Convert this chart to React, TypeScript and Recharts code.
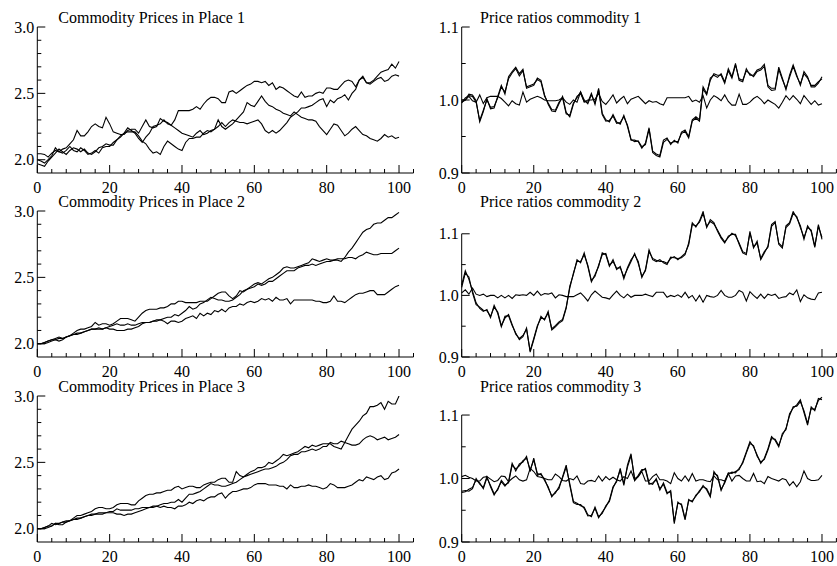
import React from 'react';
import { LineChart, Line, XAxis, YAxis, ReferenceLine } from 'recharts';

const FONT = '"Liberation Serif", "Times New Roman", Times, serif';

// ---------- time index and axis ticks ----------
const periods = Array.from({ length: 101 }, (_, i) => i);
const xTicks = [0, 4, 8, 12, 16, 20, 24, 28, 32, 36, 40, 44, 48, 52, 56, 60, 64, 68, 72, 76, 80, 84, 88, 92, 96, 100, 104];
const xLabelled = [0, 20, 40, 60, 80, 100];
const priceTicks = [2.0, 2.1, 2.2, 2.3, 2.4, 2.5, 2.6, 2.7, 2.8, 2.9, 3.0];
const priceLabelled = [2.0, 2.5, 3.0];
const ratioTicks = [0.9, 0.95, 1.0, 1.05, 1.1];
const ratioLabelled = [0.9, 1.0, 1.1];

// ---------- prices, place 1 ----------
const place1Good1 = [
  2.045, 2.045, 2.04, 2.02, 2.05, 2.07, 2.06, 2.08, 2.09, 2.12,
  2.15, 2.22, 2.18, 2.18, 2.21, 2.25, 2.27, 2.25, 2.24, 2.32,
  2.27, 2.21, 2.2, 2.19, 2.19, 2.22, 2.23, 2.23, 2.2, 2.25,
  2.3, 2.25, 2.24, 2.25, 2.31, 2.29, 2.28, 2.26, 2.3, 2.37,
  2.37, 2.37, 2.37, 2.38, 2.4, 2.38, 2.42, 2.45, 2.47, 2.47,
  2.46, 2.43, 2.43, 2.51, 2.52, 2.5, 2.52, 2.54, 2.56, 2.57,
  2.59, 2.59, 2.58, 2.59, 2.56, 2.58, 2.53, 2.55, 2.54, 2.52,
  2.5, 2.48, 2.47, 2.51, 2.47, 2.48, 2.48, 2.5, 2.51, 2.5,
  2.54, 2.54, 2.53, 2.53, 2.56, 2.59, 2.6, 2.59, 2.55, 2.6,
  2.62, 2.58, 2.57, 2.59, 2.61, 2.62, 2.59, 2.6, 2.63, 2.64,
  2.63,
];
const place1Good2 = [
  1.97, 1.96, 1.95, 1.99, 2.02, 2.05, 2.08, 2.06, 2.04, 2.07,
  2.09, 2.08, 2.06, 2.08, 2.05, 2.04, 2.06, 2.09, 2.1, 2.12,
  2.11, 2.11, 2.15, 2.17, 2.2, 2.24, 2.22, 2.2, 2.16, 2.13,
  2.17, 2.2, 2.25, 2.26, 2.27, 2.3, 2.27, 2.26, 2.24, 2.22,
  2.2, 2.19, 2.18, 2.17, 2.2, 2.22, 2.19, 2.2, 2.22, 2.23,
  2.25, 2.28, 2.25, 2.28, 2.3, 2.29, 2.28, 2.28, 2.27, 2.28,
  2.29, 2.3, 2.27, 2.22, 2.2, 2.22, 2.2, 2.22, 2.25, 2.28,
  2.32, 2.34, 2.36, 2.39, 2.39, 2.4, 2.41, 2.43, 2.45, 2.46,
  2.4, 2.45, 2.43, 2.46, 2.47, 2.49, 2.45, 2.5, 2.53, 2.6,
  2.63, 2.58, 2.58, 2.6, 2.63, 2.66, 2.67, 2.68, 2.72, 2.69,
  2.74,
];
const place1Good3 = [
  2.0, 1.99, 1.975, 2.0, 2.03, 2.09, 2.06, 2.05, 2.07, 2.1,
  2.07, 2.06, 2.09, 2.07, 2.04, 2.05, 2.07, 2.05, 2.09, 2.1,
  2.1, 2.13, 2.15, 2.18, 2.2, 2.21, 2.21, 2.21, 2.18, 2.14,
  2.12, 2.08, 2.05, 2.06, 2.04, 2.1, 2.14, 2.12, 2.1, 2.08,
  2.07, 2.13, 2.16, 2.16, 2.17, 2.17, 2.2, 2.22, 2.21, 2.23,
  2.3, 2.25, 2.23, 2.25, 2.27, 2.3, 2.33, 2.36, 2.43, 2.41,
  2.4, 2.44, 2.48, 2.44, 2.41, 2.4, 2.38, 2.37, 2.35, 2.34,
  2.33, 2.36, 2.34, 2.32, 2.31, 2.3, 2.3, 2.29, 2.25, 2.22,
  2.19, 2.23, 2.27, 2.26, 2.22, 2.18, 2.2, 2.23, 2.25, 2.22,
  2.19, 2.18, 2.16, 2.15, 2.14, 2.16, 2.19, 2.17, 2.18, 2.16,
  2.17,
];

// ---------- prices, place 2 ----------
const place2Good1 = [
  2.0, 2.0, 2.01, 2.02, 2.03, 2.03, 2.04, 2.04, 2.05, 2.06,
  2.08, 2.1, 2.11, 2.11, 2.12, 2.13, 2.16, 2.14, 2.15, 2.15,
  2.14, 2.15, 2.17, 2.19, 2.19, 2.19, 2.18, 2.17, 2.2, 2.23,
  2.25, 2.26, 2.26, 2.26, 2.27, 2.27, 2.28, 2.3, 2.3, 2.32,
  2.32, 2.31, 2.31, 2.31, 2.31, 2.32, 2.32, 2.32, 2.34, 2.36,
  2.38, 2.39, 2.39, 2.36, 2.34, 2.36, 2.4, 2.39, 2.41, 2.43,
  2.45, 2.46, 2.45, 2.47, 2.49, 2.5, 2.52, 2.54, 2.57, 2.58,
  2.57, 2.57, 2.58, 2.59, 2.6, 2.61, 2.64, 2.63, 2.62, 2.63,
  2.64, 2.63, 2.63, 2.63, 2.62, 2.65, 2.69, 2.72, 2.76, 2.8,
  2.84, 2.86, 2.87, 2.9, 2.91, 2.91, 2.93, 2.95, 2.95, 2.97,
  2.99,
];
const place2Good2 = [
  2.0, 2.0, 2.0, 2.01, 2.02, 2.03, 2.02, 2.03, 2.05, 2.06,
  2.07, 2.07, 2.08, 2.09, 2.1, 2.11, 2.11, 2.12, 2.11, 2.12,
  2.13, 2.14, 2.15, 2.14, 2.14, 2.15, 2.14, 2.14, 2.15, 2.16,
  2.16, 2.16, 2.17, 2.18, 2.18, 2.19, 2.2, 2.2, 2.22, 2.21,
  2.23, 2.25, 2.28, 2.26, 2.27, 2.3, 2.31, 2.33, 2.35, 2.34,
  2.33, 2.33, 2.32, 2.32, 2.33, 2.35, 2.37, 2.4, 2.41, 2.42,
  2.43, 2.45, 2.44, 2.45, 2.47, 2.47, 2.49, 2.51, 2.53, 2.55,
  2.55, 2.55, 2.57, 2.58, 2.59, 2.59, 2.6, 2.59, 2.6, 2.61,
  2.62, 2.62, 2.63, 2.64, 2.64, 2.64, 2.65, 2.65, 2.64, 2.66,
  2.67, 2.69, 2.68, 2.67, 2.67, 2.68, 2.68, 2.68, 2.68, 2.7,
  2.72,
];
const place2Good3 = [
  2.0, 2.0, 2.01, 2.02, 2.03, 2.04, 2.05, 2.04, 2.05, 2.06,
  2.07, 2.08, 2.08, 2.09, 2.1, 2.11, 2.11, 2.11, 2.11, 2.12,
  2.11, 2.11, 2.1, 2.1, 2.1, 2.11, 2.11, 2.12, 2.13, 2.15,
  2.16, 2.16, 2.17, 2.17, 2.18, 2.17, 2.15, 2.17, 2.17, 2.16,
  2.17, 2.19, 2.2, 2.21, 2.19, 2.23, 2.21, 2.23, 2.22, 2.25,
  2.24, 2.26, 2.24, 2.27, 2.28, 2.28, 2.3, 2.29, 2.31, 2.32,
  2.31, 2.32, 2.34, 2.33, 2.34, 2.32, 2.35, 2.33, 2.33, 2.34,
  2.3, 2.33, 2.33, 2.33, 2.33, 2.33, 2.33, 2.32, 2.32, 2.31,
  2.31, 2.32, 2.36, 2.32, 2.32, 2.31, 2.33, 2.35, 2.37, 2.38,
  2.38, 2.39, 2.4, 2.4, 2.37, 2.37, 2.37, 2.39, 2.41, 2.43,
  2.44,
];

// ---------- prices, place 3 ----------
const place3Good1 = [
  2.0, 2.0, 2.01, 2.02, 2.04, 2.03, 2.04, 2.05, 2.06, 2.06,
  2.08, 2.1, 2.1, 2.11, 2.12, 2.13, 2.15, 2.16, 2.16, 2.15,
  2.15, 2.16, 2.18, 2.19, 2.19, 2.19, 2.18, 2.18, 2.21, 2.23,
  2.25, 2.26, 2.26, 2.27, 2.27, 2.28, 2.29, 2.29, 2.31, 2.32,
  2.3, 2.31, 2.32, 2.32, 2.31, 2.31, 2.33, 2.34, 2.35, 2.35,
  2.37, 2.38, 2.38, 2.35, 2.35, 2.43, 2.4, 2.39, 2.41, 2.43,
  2.44, 2.46, 2.46, 2.47, 2.5, 2.49, 2.51, 2.53, 2.56, 2.55,
  2.56, 2.57, 2.58, 2.6, 2.62, 2.61, 2.63, 2.62, 2.63, 2.64,
  2.64, 2.64, 2.62, 2.61, 2.6, 2.65, 2.7, 2.75, 2.78, 2.81,
  2.85, 2.87, 2.92, 2.92, 2.93, 2.95, 2.9, 2.96, 2.94, 2.94,
  3.0,
];
const place3Good2 = [
  2.0, 2.0, 2.0, 2.01, 2.02, 2.04, 2.03, 2.03, 2.05, 2.06,
  2.07, 2.08, 2.08, 2.09, 2.1, 2.11, 2.11, 2.12, 2.12, 2.12,
  2.13, 2.13, 2.15, 2.14, 2.14, 2.14, 2.14, 2.15, 2.15, 2.16,
  2.16, 2.16, 2.16, 2.17, 2.18, 2.19, 2.19, 2.2, 2.2, 2.22,
  2.2, 2.23, 2.26, 2.26, 2.27, 2.28, 2.3, 2.32, 2.34, 2.33,
  2.33, 2.32, 2.32, 2.33, 2.34, 2.35, 2.37, 2.39, 2.4, 2.41,
  2.42, 2.43, 2.44, 2.45, 2.45, 2.46, 2.47, 2.49, 2.5, 2.52,
  2.55, 2.56, 2.56, 2.58, 2.58, 2.59, 2.6, 2.59, 2.6, 2.62,
  2.62, 2.65, 2.64, 2.64, 2.66, 2.65, 2.64, 2.63, 2.63, 2.64,
  2.67, 2.69, 2.7, 2.69, 2.67, 2.68, 2.69, 2.67, 2.68, 2.69,
  2.71,
];
const place3Good3 = [
  2.0, 2.0, 2.01, 2.02, 2.02, 2.04, 2.04, 2.05, 2.05, 2.06,
  2.07, 2.07, 2.08, 2.09, 2.1, 2.1, 2.11, 2.11, 2.11, 2.12,
  2.12, 2.12, 2.11, 2.11, 2.1, 2.11, 2.11, 2.12, 2.13, 2.14,
  2.15, 2.16, 2.17, 2.17, 2.16, 2.17, 2.16, 2.16, 2.15, 2.17,
  2.17, 2.18, 2.2, 2.19, 2.21, 2.22, 2.21, 2.23, 2.24, 2.24,
  2.26, 2.27, 2.23, 2.26, 2.28, 2.28, 2.29, 2.3, 2.3, 2.31,
  2.33, 2.34, 2.34, 2.34, 2.33, 2.33, 2.33, 2.32, 2.32, 2.3,
  2.33, 2.31, 2.31, 2.32, 2.32, 2.33, 2.32, 2.32, 2.31, 2.3,
  2.31, 2.34, 2.33, 2.31, 2.31, 2.31, 2.32, 2.33, 2.35, 2.37,
  2.36, 2.39, 2.38, 2.37, 2.39, 2.4, 2.37, 2.38, 2.42, 2.43,
  2.45,
];

// ---------- price ratios, commodity 1 ----------
const ratio1Place2 = [
  0.997, 1.0, 1.008, 1.007, 0.999, 0.97, 0.984, 1.002, 0.988, 0.989,
  1.005, 1.02, 1.008, 1.032, 1.039, 1.045, 1.036, 1.042, 1.016, 1.018,
  1.02, 1.03, 1.027, 1.007, 0.994, 0.985, 0.984, 0.995, 1.005, 0.983,
  0.977, 0.994, 1.005, 1.009, 0.998, 0.997, 1.009, 0.994, 1.016, 0.982,
  0.973, 0.97, 0.98, 0.97, 0.967, 0.979, 0.964, 0.945, 0.945, 0.943,
  0.934, 0.941, 0.962, 0.93, 0.926, 0.924, 0.945, 0.948, 0.939, 0.945,
  0.941, 0.956, 0.959, 0.95, 0.973, 0.977, 0.973, 1.018, 1.009, 1.027,
  1.036, 1.034, 1.034, 1.023, 1.043, 1.032, 1.05, 1.027, 1.025, 1.043,
  1.034, 1.034, 1.041, 1.043, 1.049, 1.02, 1.016, 1.016, 1.045, 1.03,
  1.014, 1.034, 1.048, 1.034, 1.02, 1.039, 1.032, 1.018, 1.018, 1.023,
  1.032,
];
const ratio1Place3 = [
  0.996, 1.003, 1.006, 1.005, 0.997, 0.972, 0.986, 1.0, 0.99, 0.991,
  1.003, 1.018, 1.011, 1.029, 1.037, 1.043, 1.033, 1.04, 1.018, 1.02,
  1.022, 1.028, 1.025, 1.005, 0.996, 0.987, 0.986, 0.997, 1.003, 0.981,
  0.979, 0.996, 1.003, 1.011, 1.0, 0.995, 1.007, 0.996, 1.014, 0.98,
  0.971, 0.972, 0.978, 0.968, 0.969, 0.977, 0.966, 0.946, 0.943, 0.944,
  0.936, 0.939, 0.96, 0.928, 0.924, 0.922, 0.942, 0.946, 0.941, 0.943,
  0.943, 0.954, 0.957, 0.948, 0.971, 0.975, 0.971, 1.015, 1.007, 1.03,
  1.034, 1.031, 1.036, 1.025, 1.04, 1.03, 1.048, 1.029, 1.027, 1.04,
  1.036, 1.032, 1.039, 1.041, 1.046, 1.018, 1.013, 1.014, 1.042, 1.028,
  1.016, 1.031, 1.046, 1.032, 1.022, 1.036, 1.03, 1.02, 1.02, 1.025,
  1.029,
];
const ratio1Place32 = [
  1.0, 1.0, 1.005, 0.999, 0.997, 1.007, 0.995, 1.003, 1.005, 1.005,
  1.005, 1.002, 0.997, 0.992, 0.999, 0.995, 0.993, 1.011, 0.997, 1.001,
  1.003, 1.005, 1.003, 1.0, 0.999, 0.999, 0.999, 1.0, 1.003, 0.997,
  0.994, 1.0, 0.997, 1.011, 0.997, 1.0, 1.0, 1.001, 1.009, 0.998,
  0.994, 1.0, 1.007, 0.996, 1.001, 1.005, 0.995, 1.001, 1.003, 1.005,
  1.0, 0.995, 0.999, 0.997, 0.998, 0.995, 0.993, 1.003, 1.003, 1.003,
  1.003, 1.003, 1.003, 1.005, 0.998, 1.0, 0.997, 1.006, 0.989, 1.0,
  1.006, 1.003, 0.999, 1.007, 0.998, 0.993, 0.993, 1.008, 0.994, 0.994,
  0.997, 1.002, 1.005, 1.001, 0.995, 1.0, 0.997, 0.994, 0.989, 0.997,
  1.006, 1.0, 1.006, 1.001, 0.995, 1.006, 1.0, 0.994, 0.999, 0.993,
  0.995,
];

// ---------- price ratios, commodity 2 ----------
const ratio2Place2 = [
  1.017, 1.04, 1.026, 1.007, 0.988, 0.979, 0.974, 0.977, 0.964, 0.984,
  0.971, 0.949, 0.966, 0.967, 0.951, 0.939, 0.928, 0.933, 0.947, 0.908,
  0.928, 0.949, 0.966, 0.96, 0.974, 0.944, 0.949, 0.955, 0.959, 0.979,
  1.015, 1.034, 1.058, 1.053, 1.069, 1.047, 1.022, 1.034, 1.047, 1.069,
  1.066, 1.047, 1.058, 1.042, 1.047, 1.027, 1.045, 1.058, 1.066, 1.055,
  1.029, 1.042, 1.074, 1.058, 1.055, 1.058, 1.053, 1.05, 1.062, 1.061,
  1.06, 1.061, 1.066, 1.085, 1.118, 1.111, 1.121, 1.136, 1.11, 1.123,
  1.118, 1.104, 1.093, 1.085, 1.096, 1.099, 1.099, 1.083, 1.069, 1.066,
  1.104, 1.077, 1.088, 1.058, 1.069, 1.08, 1.115, 1.12, 1.083, 1.077,
  1.113, 1.118, 1.136, 1.126, 1.113, 1.091, 1.113, 1.104, 1.078, 1.115,
  1.091,
];
const ratio2Place3 = [
  1.013, 1.036, 1.03, 1.004, 0.985, 0.981, 0.976, 0.975, 0.966, 0.981,
  0.973, 0.951, 0.963, 0.969, 0.953, 0.937, 0.93, 0.935, 0.945, 0.91,
  0.93, 0.951, 0.963, 0.962, 0.971, 0.946, 0.951, 0.957, 0.961, 0.981,
  1.012, 1.036, 1.055, 1.055, 1.066, 1.049, 1.024, 1.031, 1.049, 1.066,
  1.068, 1.049, 1.055, 1.044, 1.045, 1.03, 1.043, 1.055, 1.068, 1.052,
  1.031, 1.04, 1.071, 1.06, 1.057, 1.055, 1.055, 1.052, 1.06, 1.063,
  1.058, 1.063, 1.068, 1.082, 1.115, 1.113, 1.119, 1.133, 1.112, 1.12,
  1.116, 1.106, 1.095, 1.087, 1.094, 1.101, 1.097, 1.085, 1.071, 1.068,
  1.101, 1.079, 1.085, 1.06, 1.071, 1.078, 1.112, 1.118, 1.085, 1.079,
  1.11, 1.116, 1.133, 1.128, 1.11, 1.094, 1.11, 1.106, 1.08, 1.112,
  1.094,
];
const ratio2Place32 = [
  1.004, 1.009, 1.002, 1.012, 1.002, 1.0, 1.002, 0.998, 1.0, 1.0,
  0.996, 1.0, 0.996, 1.0, 0.995, 1.001, 1.0, 1.001, 1.0, 1.005,
  1.0, 1.007, 1.0, 1.003, 1.002, 1.004, 0.996, 1.001, 1.0, 0.998,
  0.998, 0.998, 1.001, 1.004, 0.998, 0.991, 1.001, 1.007, 1.002, 0.997,
  0.996, 0.994, 1.001, 1.007, 1.0, 0.996, 1.002, 0.997, 1.0, 1.0,
  1.0, 1.002, 1.0, 0.998, 1.005, 1.005, 1.005, 0.997, 1.0, 0.998,
  1.001, 0.997, 1.005, 0.996, 1.0, 0.991, 1.0, 0.989, 1.0, 0.998,
  0.997, 1.0, 1.008, 1.0, 0.997, 0.997, 1.0, 1.008, 1.005, 0.991,
  1.006, 1.0, 0.995, 1.002, 0.995, 1.002, 1.0, 1.002, 0.995, 0.997,
  0.998, 1.004, 1.001, 1.009, 0.99, 1.001, 0.996, 0.994, 0.993, 1.004,
  1.005,
];

// ---------- price ratios, commodity 3 ----------
const ratio3Place2 = [
  0.98, 0.981, 0.98, 0.984, 1.0, 0.991, 0.986, 1.003, 0.987, 0.974,
  0.984, 0.995, 0.988, 0.995, 1.024, 1.012, 1.023, 1.026, 1.035, 1.011,
  1.032, 1.005, 1.008, 0.997, 0.987, 0.971, 0.979, 0.984, 1.003, 1.021,
  0.989, 0.962, 0.959, 0.959, 0.953, 0.941, 0.942, 0.953, 0.938, 0.947,
  0.955, 0.966, 0.987, 0.995, 1.016, 0.989, 1.021, 1.039, 0.997, 1.005,
  1.014, 1.014, 0.991, 0.993, 0.998, 0.984, 0.991, 0.976, 0.981, 0.929,
  0.963, 0.958, 0.935, 0.967, 0.963, 0.974, 0.979, 0.989, 0.982, 0.971,
  1.011, 1.003, 0.981, 0.995, 1.009, 1.008, 1.011, 1.014, 1.026, 1.042,
  1.058, 1.05, 1.037, 1.024, 1.032, 1.047, 1.066, 1.06, 1.05, 1.071,
  1.077, 1.102, 1.111, 1.116, 1.124, 1.104, 1.084, 1.113, 1.107, 1.126,
  1.124,
];
const ratio3Place3 = [
  0.978, 0.979, 0.983, 0.986, 0.998, 0.993, 0.984, 1.001, 0.989, 0.976,
  0.982, 0.997, 0.99, 0.993, 1.021, 1.015, 1.02, 1.028, 1.032, 1.014,
  1.029, 1.008, 1.006, 0.999, 0.985, 0.973, 0.977, 0.987, 1.001, 1.018,
  0.992, 0.964, 0.961, 0.957, 0.955, 0.943, 0.94, 0.955, 0.94, 0.945,
  0.957, 0.964, 0.985, 0.997, 1.013, 0.992, 1.018, 1.036, 1.0, 1.003,
  1.012, 1.016, 0.993, 0.991, 1.0, 0.982, 0.993, 0.978, 0.979, 0.932,
  0.961, 0.96, 0.937, 0.965, 0.965, 0.972, 0.981, 0.987, 0.984, 0.973,
  1.008, 1.005, 0.983, 0.993, 1.007, 1.01, 1.009, 1.016, 1.024, 1.04,
  1.055, 1.052, 1.035, 1.026, 1.03, 1.045, 1.063, 1.062, 1.052, 1.068,
  1.079, 1.099, 1.113, 1.114, 1.121, 1.107, 1.087, 1.11, 1.109, 1.123,
  1.128,
];
const ratio3Place32 = [
  1.003, 1.005, 1.002, 1.0, 0.996, 0.996, 1.002, 1.003, 0.999, 0.995,
  0.997, 1.004, 1.003, 0.995, 1.0, 1.004, 0.998, 0.996, 0.998, 1.016,
  1.011, 1.003, 1.002, 1.0, 0.998, 0.998, 1.007, 1.003, 0.997, 0.996,
  1.0, 0.998, 1.004, 0.992, 0.991, 0.996, 0.997, 0.995, 1.004, 0.996,
  1.003, 0.998, 1.002, 0.998, 0.996, 1.003, 1.0, 1.012, 0.997, 1.003,
  1.011, 0.996, 0.996, 1.003, 1.007, 0.998, 0.998, 0.996, 0.992, 1.009,
  1.0, 0.996, 1.004, 0.996, 1.008, 0.996, 0.998, 0.998, 0.996, 0.995,
  1.004, 0.998, 0.998, 0.996, 1.008, 0.996, 1.004, 1.005, 1.0, 0.996,
  0.996, 1.008, 0.995, 0.996, 0.992, 1.003, 1.0, 0.998, 0.996, 1.0,
  0.998, 0.989, 0.995, 0.987, 0.995, 1.012, 1.0, 0.997, 0.997, 0.998,
  1.005,
];

const buildRows = (a: number[], b: number[], c: number[]) =>
  periods.map((t, i) => ({ t, a: a[i], b: b[i], c: c[i] }));

const isIn = (list: number[], v: number) => list.some((l) => Math.abs(l - v) < 1e-9);

// Ticks drawn inside the frame: long at labelled values, short elsewhere.
const XTick = (props: any) => {
  const { x, y, payload } = props;
  const v = payload.value as number;
  const major = isIn(xLabelled, v);
  return (
    <g>
      <line x1={x} x2={x} y1={y} y2={y - (major ? 8 : 4)} stroke="#000" strokeWidth={1} />
      {major && (
        <text x={x} y={y + 20} textAnchor="middle" fontFamily={FONT} fontSize={16} fill="#000">
          {v}
        </text>
      )}
    </g>
  );
};

const makeYTick = (labelled: number[]) => (props: any) => {
  const { x, y, payload } = props;
  const v = payload.value as number;
  const major = isIn(labelled, v);
  return (
    <g>
      <line x1={x} x2={x + (major ? 8 : 4)} y1={y} y2={y} stroke="#000" strokeWidth={1} />
      {major && (
        <text x={x - 3} y={y + 5.5} textAnchor="end" fontFamily={FONT} fontSize={16} fill="#000">
          {v.toFixed(1)}
        </text>
      )}
    </g>
  );
};

type PanelProps = {
  left: number;
  top: number;
  width: number;
  yAxisWidth: number;
  marginLeft: number;
  marginRight: number;
  rows: { t: number; a: number; b: number; c: number }[];
  yDomain: [number, number];
  yTicks: number[];
  yLabelled: number[];
};

const PLOT_H = 146;
const TOP_PAD = 12;
const X_AXIS_H = 26;

function Panel(p: PanelProps) {
  const YTick = makeYTick(p.yLabelled);
  const yTop = p.yTicks[p.yTicks.length - 1];
  return (
    <div style={{ position: 'absolute', left: p.left, top: p.top }}>
      <LineChart
        width={p.width}
        height={TOP_PAD + PLOT_H + X_AXIS_H}
        data={p.rows}
        margin={{ top: TOP_PAD, right: p.marginRight, bottom: 0, left: p.marginLeft }}
        style={{ overflow: 'visible' }}
      >
        <XAxis
          dataKey="t"
          type="number"
          domain={[0, 104]}
          ticks={xTicks}
          interval={0}
          tickSize={0}
          tickMargin={0}
          tickLine={false}
          tick={XTick}
          axisLine={{ stroke: '#000', strokeWidth: 1 }}
          height={X_AXIS_H}
        />
        <YAxis
          type="number"
          domain={p.yDomain}
          ticks={p.yTicks}
          interval={0}
          tickSize={0}
          tickMargin={0}
          tickLine={false}
          tick={YTick}
          axisLine={false}
          width={p.yAxisWidth}
          allowDataOverflow
        />
        <ReferenceLine
          segment={[
            { x: 0, y: p.yDomain[0] },
            { x: 0, y: yTop },
          ]}
          stroke="#000"
          strokeWidth={1}
        />
        <Line type="linear" dataKey="a" stroke="#000" strokeWidth={1.1} dot={false} isAnimationActive={false} />
        <Line type="linear" dataKey="b" stroke="#000" strokeWidth={1.1} dot={false} isAnimationActive={false} />
        <Line type="linear" dataKey="c" stroke="#000" strokeWidth={1.1} dot={false} isAnimationActive={false} />
      </LineChart>
    </div>
  );
}

const rowTops = [26.7, 211.2, 395.7];
const leftTitles = ['Commodity Prices in Place 1', 'Commodity Prices in Place 2', 'Commodity Prices in Place 3'];
const rightTitles = ['Price ratios commodity 1', 'Price ratios commodity 2', 'Price ratios commodity 3'];

const priceRows = [
  buildRows(place1Good1, place1Good2, place1Good3),
  buildRows(place2Good1, place2Good2, place2Good3),
  buildRows(place3Good1, place3Good2, place3Good3),
];
const ratioRows = [
  buildRows(ratio1Place2, ratio1Place3, ratio1Place32),
  buildRows(ratio2Place2, ratio2Place3, ratio2Place32),
  buildRows(ratio3Place2, ratio3Place3, ratio3Place32),
];
const ratioDomains: [number, number][] = [
  [0.9, 1.1],
  [0.9, 1.137],
  [0.9, 1.13],
];

export default function App() {
  return (
    <div style={{ position: 'absolute', left: 0, top: 0, width: 837, height: 566, background: '#fff', overflow: 'hidden' }}>
      {rowTops.map((rt, i) => (
        <React.Fragment key={i}>
          <Panel
            left={0}
            top={rt - TOP_PAD}
            width={416}
            yAxisWidth={37}
            marginLeft={0.3}
            marginRight={2.5}
            rows={priceRows[i]}
            yDomain={[1.9, 3.0]}
            yTicks={priceTicks}
            yLabelled={priceLabelled}
          />
          <Panel
            left={430}
            top={rt - TOP_PAD}
            width={407}
            yAxisWidth={31.7}
            marginLeft={0}
            marginRight={0.6}
            rows={ratioRows[i]}
            yDomain={ratioDomains[i]}
            yTicks={ratioTicks}
            yLabelled={ratioLabelled}
          />
        </React.Fragment>
      ))}
      <svg
        width={837}
        height={566}
        style={{ position: 'absolute', left: 0, top: 0, pointerEvents: 'none' }}
      >
        {rowTops.map((rt, i) => (
          <g key={i} fontFamily={FONT} fontSize={16} fill="#000">
            <text x={58.3} y={rt - 4}>{leftTitles[i]}</text>
            <text x={480} y={rt - 4}>{rightTitles[i]}</text>
          </g>
        ))}
      </svg>
    </div>
  );
}
